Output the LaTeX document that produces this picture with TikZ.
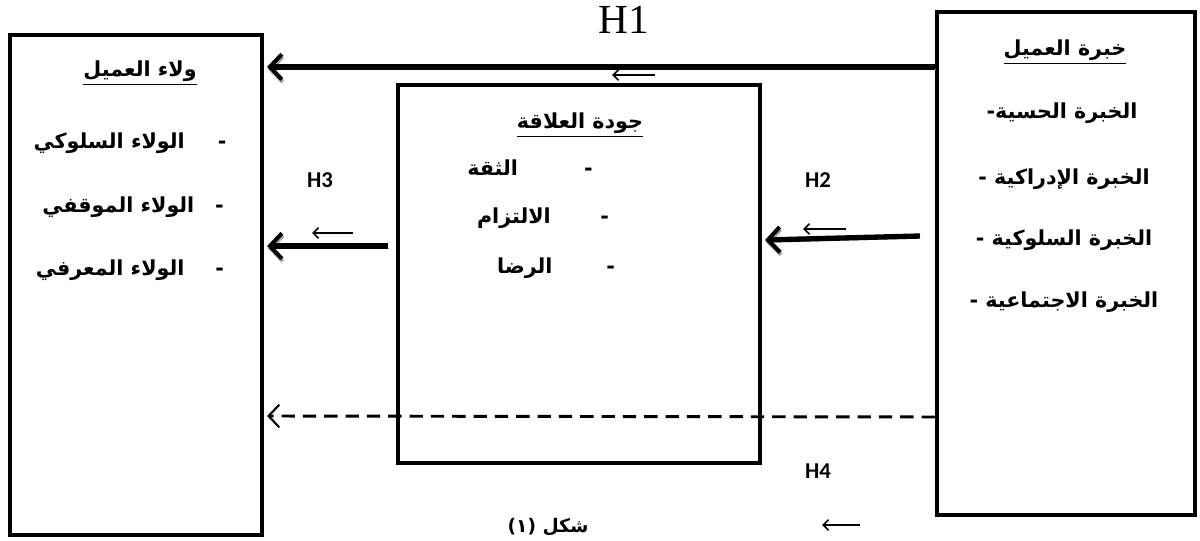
\documentclass[tikz,border=0pt]{standalone}
\usepackage{fontspec}
\setmainfont{Liberation Serif}
\newfontfamily\arabicfont[Script=Arabic]{DejaVu Sans}
\newfontfamily\labelfont{Carlito}
\TeXXeTstate=1
\usetikzlibrary{arrows.meta,positioning,calc}
\definecolor{frameblack}{HTML}{000000}
\definecolor{shadowgrey}{HTML}{A0A0A0}
\newcommand{\arabtxt}[1]{{\arabicfont\bfseries\beginR #1\endR}}
\tikzset{
  font=\fontsize{15.5}{18}\selectfont,
  box/.style={draw=frameblack,line width=3.2pt,inner sep=0pt},
  bigflow/.style={-{Straight Barb[length=9pt,width=19pt,line width=3pt]},line width=4pt,draw=frameblack,
                  preaction={draw=shadowgrey,transform canvas={shift={(0.6pt,-1.8pt)}}}},
  dashflow/.style={-{Straight Barb[length=8pt,width=17pt,line width=1.6pt]},line width=2.2pt,
                   dash pattern=on 10pt off 6pt},
  hint/.style={-{Straight Barb[length=4pt,width=8pt,line width=1.2pt]},line width=1.4pt},
  hlabel/.style={font=\labelfont\bfseries\fontsize{17}{20}\selectfont},
  item/.style={inner sep=1pt},
}

\begin{document}
\begin{tikzpicture}[x=0.75pt,y=-0.75pt]
  \useasboundingbox (0,0) rectangle (1200,541);

  % the three blocks
  \node[box,minimum width=189pt,minimum height=375pt] (loyal) at (136,285) {};
  \node[box,minimum width=271.5pt,minimum height=283.5pt] (quality) at (579,274) {};
  \node[box,minimum width=193.5pt,minimum height=377.25pt] (exper) at (1066,263.5) {};

  % customer loyalty
  \node[item] (loyaltitle) at (140,73) {\underline{\arabtxt{ولاء العميل}}};
  \node[item] (loyal1) at (130,143) {\arabtxt{-\hspace{1.6em}الولاء السلوكي}};
  \node[item] (loyal2) at (133,207) {\arabtxt{-\hspace{1em}الولاء الموقفي}};
  \node[item] (loyal3) at (130,270) {\arabtxt{-\hspace{1.5em}الولاء المعرفي}};

  % relationship quality
  \node[item] (qualtitle) at (580,125) {\underline{\arabtxt{جودة العلاقة}}};
  \node[item] (qual1) at (530,168) {\arabtxt{-\hspace{3.2em}الثقة}};
  \node[item] (qual2) at (543,218) {\arabtxt{-\hspace{2.4em}الالتزام}};
  \node[item] (qual3) at (556,268) {\arabtxt{-\hspace{2.6em}الرضا}};

  % customer experience
  \node[item] (expertitle) at (1065,52) {\underline{\arabtxt{خبرة العميل}}};
  \node[item] (exper1) at (1062,113) {\arabtxt{الخبرة الحسية-}};
  \node[item] (exper2) at (1064,179) {\arabtxt{الخبرة الإدراكية -}};
  \node[item] (exper3) at (1064,240) {\arabtxt{الخبرة السلوكية -}};
  \node[item] (exper4) at (1064,302) {\arabtxt{الخبرة الاجتماعية -}};

  % hypotheses
  \node[font=\fontsize{31}{34}\selectfont] (h1) at (624,20) {H1};
  \node[hlabel] (h2) at (818,180) {H2};
  \node[hlabel] (h3) at (320,180) {H3};
  \node[hlabel] (h4) at (818,471) {H4};

  \draw[bigflow] ($(exper.north west)+(0,57)$) -- ($(loyal.north east)+(3,34)$);
  \draw[bigflow] ($(exper.west)+(-15,-27.5)$) -- ($(quality.east)+(3,-34)$);
  \draw[bigflow] ($(quality.west)+(-8,-28)$) -- ($(loyal.east)+(3,-39)$);
  \draw[dashflow] ($(exper.west)+(0,153.5)$) -- ($(loyal.east)+(3,131)$);

  % small direction marks
  \draw[hint] ($(h1)+(31,55)$) -- ++(-43,0);
  \draw[hint] ($(h2)+(28,49)$) -- ++(-43,0);
  \draw[hint] ($(h3)+(33,53)$) -- ++(-41,0);
  \draw[hint] ($(h4)+(42,54)$) -- ++(-38,0);

  \node[item,font=\fontsize{14}{16}\selectfont] (caption) at (548,527) {\arabtxt{شكل (١)}};
\end{tikzpicture}
\end{document}
